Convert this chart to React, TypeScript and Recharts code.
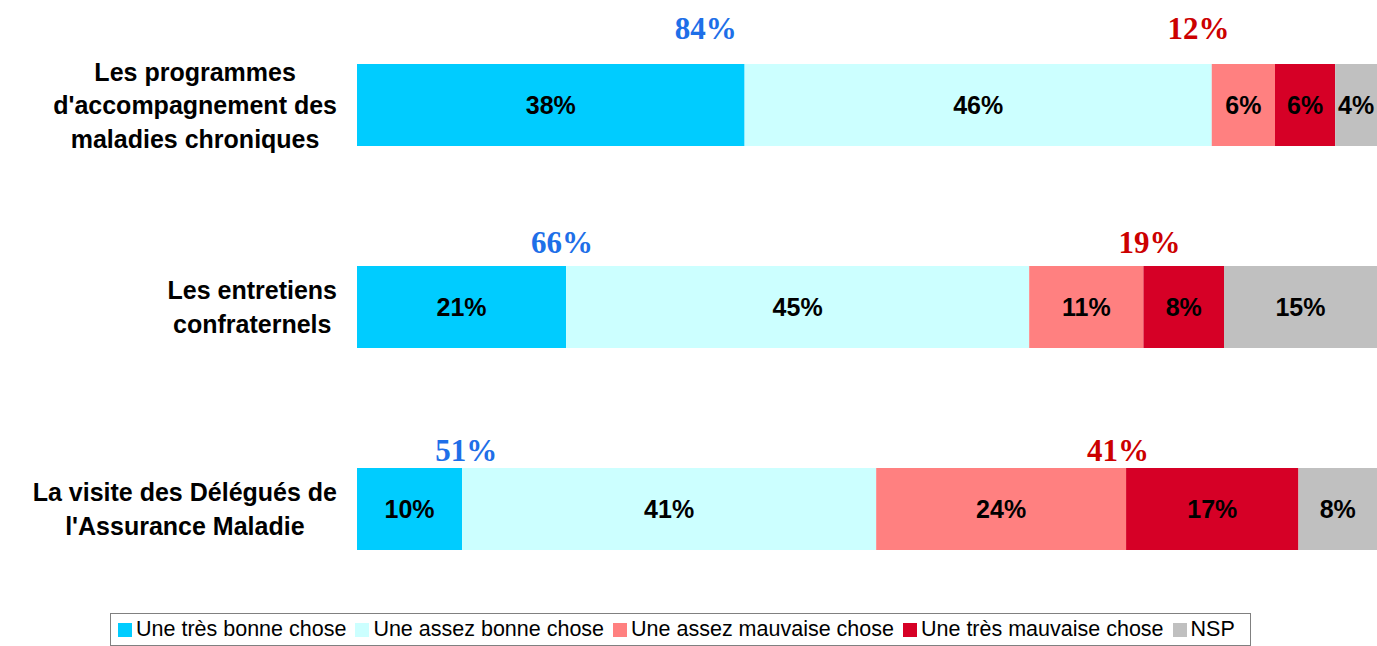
import React from 'react';
import { BarChart, Bar, XAxis, YAxis, LabelList, ReferenceDot } from 'recharts';

// categories (top to bottom) and the text lines used for their axis labels
const categories = [
  "Les programmes d'accompagnement des maladies chroniques",
  'Les entretiens confraternels',
  "La visite des Délégués de l'Assurance Maladie",
];
const categoryLines = [
  ['Les programmes', "d'accompagnement des", 'maladies chroniques'],
  ['Les entretiens', 'confraternels'],
  ['La visite des Délégués de', "l'Assurance Maladie"],
];

const seriesNames = [
  'Une très bonne chose',
  'Une assez bonne chose',
  'Une assez mauvaise chose',
  'Une très mauvaise chose',
  'NSP',
];

// shares (%)
const tresBonne = [38.0, 20.5, 10.3];
const assezBonne = [45.8, 45.4, 40.6];
const assezMauvaise = [6.2, 11.2, 24.5];
const tresMauvaise = [5.9, 7.9, 16.9];
const nsp = [4.1, 15.0, 7.7];

// labels printed in the segments
const tresBonneLabels = ['38%', '21%', '10%'];
const assezBonneLabels = ['46%', '45%', '41%'];
const assezMauvaiseLabels = ['6%', '11%', '24%'];
const tresMauvaiseLabels = ['6%', '8%', '17%'];
const nspLabels = ['4%', '15%', '8%'];

// totals shown above the bars
const totalBonne = ['84%', '66%', '51%'];
const totalMauvaise = ['12%', '19%', '41%'];

// where the totals sit (axis units) and how high above the row centre
const bonneAnchor = [34.2, 20.1, 10.7];
const mauvaiseAnchor = [82.5, 77.7, 74.6];
const totalLift = [66, 54, 48];

const colors = ['#00CCFF', '#CCFFFF', '#FF8080', '#D60026', '#C0C0C0'];
const keys = ['tb', 'ab', 'am', 'tm', 'nsp'];

const data = categories.map((name, i) => ({
  name,
  tb: tresBonne[i],
  ab: assezBonne[i],
  am: assezMauvaise[i],
  tm: tresMauvaise[i],
  nsp: nsp[i],
  tbL: tresBonneLabels[i],
  abL: assezBonneLabels[i],
  amL: assezMauvaiseLabels[i],
  tmL: tresMauvaiseLabels[i],
  nspL: nspLabels[i],
}));

const SANS = '"Liberation Sans", Arial, Helvetica, sans-serif';
const SERIF = '"Liberation Serif", "Times New Roman", serif';
const CAT_FONT = 25;

let ctx: CanvasRenderingContext2D | null = null;
const textWidth = (s: string, font: string) => {
  if (!ctx) ctx = document.createElement('canvas').getContext('2d');
  if (!ctx) return s.length * 12;
  ctx.font = font;
  return ctx.measureText(s).width;
};

const CategoryTick = (props: any) => {
  const { x, y, payload } = props;
  const idx = categories.indexOf(payload.value);
  const lines = categoryLines[idx] || [payload.value];
  const maxW = Math.max(...lines.map(l => textWidth(l, `bold ${CAT_FONT}px ${SANS}`)));
  const cx = x - 20 - maxW / 2;
  const lh = 33.5;
  const y0 = y - ((lines.length - 1) * lh) / 2;
  return (
    <text textAnchor="middle" fontFamily={SANS} fontWeight="bold" fontSize={CAT_FONT} fill="#000">
      {lines.map((l, i) => (
        <tspan key={i} x={cx} y={y0 + i * lh} dy="0.36em">{l}</tspan>
      ))}
    </text>
  );
};

const totalText = (label: string, lift: number, color: string) => (p: any) => (
  <text x={p.cx} y={p.cy - lift} textAnchor="middle" fontFamily={SERIF} fontWeight="bold" fontSize={31} fill={color}>
    {label}
  </text>
);

export default function App() {
  return (
    <div style={{ position: 'absolute', left: 0, top: 0, width: 1377, height: 646, background: '#fff' }}>
      <BarChart
        width={1377}
        height={646}
        data={data}
        layout="vertical"
        margin={{ top: 4, right: 0, bottom: 36, left: 0 }}
      >
        <XAxis type="number" domain={[0, 100]} hide />
        <YAxis
          type="category"
          dataKey="name"
          width={357}
          axisLine={false}
          tickLine={false}
          tickSize={0}
          tickMargin={0}
          interval={0}
          tick={<CategoryTick />}
        />
        {keys.map((k, i) => (
          <Bar key={k} dataKey={k} stackId="a" fill={colors[i]} barSize={82} isAnimationActive={false}>
            <LabelList
              dataKey={`${k}L`}
              position="center"
              fill="#000"
              fontFamily={SANS}
              fontWeight="bold"
              fontSize={25}
            />
          </Bar>
        ))}
        {categories.map((c, i) => (
          <ReferenceDot
            key={`b${i}`}
            x={bonneAnchor[i]}
            y={c}
            r={0}
            ifOverflow="visible"
            shape={totalText(totalBonne[i], totalLift[i], '#1E6FE8')}
          />
        ))}
        {categories.map((c, i) => (
          <ReferenceDot
            key={`m${i}`}
            x={mauvaiseAnchor[i]}
            y={c}
            r={0}
            ifOverflow="visible"
            shape={totalText(totalMauvaise[i], totalLift[i], '#CC0000')}
          />
        ))}
      </BarChart>
      <div
        style={{
          position: 'absolute',
          left: 110,
          top: 613,
          width: 1141,
          height: 33,
          border: '1px solid #808080',
          boxSizing: 'border-box',
          display: 'flex',
          alignItems: 'center',
          paddingLeft: 7,
          fontFamily: SANS,
          fontSize: 21.5,
          color: '#000',
          whiteSpace: 'nowrap',
        }}
      >
        {seriesNames.map((s, i) => (
          <div key={s} style={{ display: 'flex', alignItems: 'center', marginRight: 9 }}>
            <span style={{ width: 14, height: 14, background: colors[i], marginRight: 4, display: 'inline-block' }} />
            <span>{s}</span>
          </div>
        ))}
      </div>
    </div>
  );
}
